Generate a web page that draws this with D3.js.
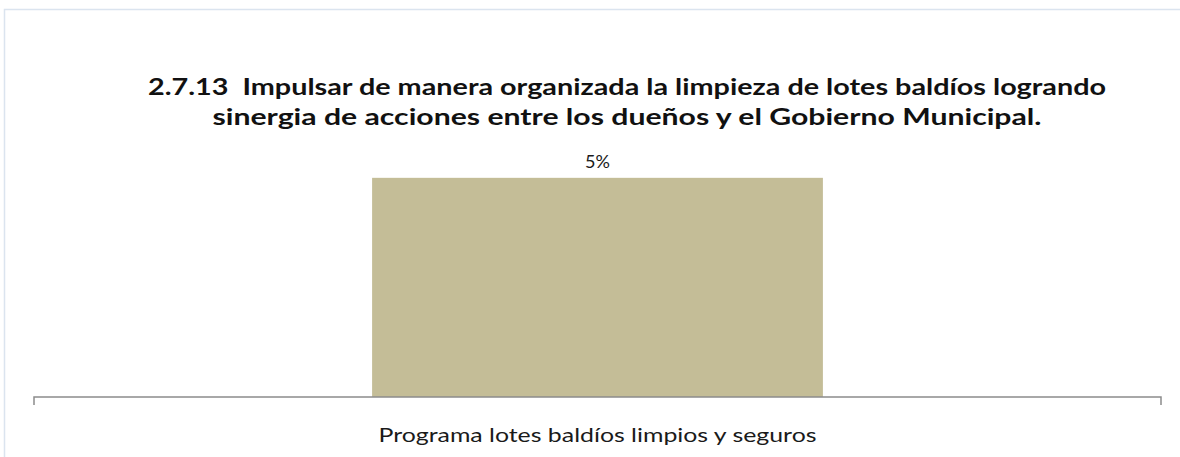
<!DOCTYPE html>
<html>
<head>
<meta charset="utf-8">
<script src="https://cdn.jsdelivr.net/npm/d3@7"></script>
<style>
  html, body { margin: 0; padding: 0; background: #fff; }
  svg { display: block; }
  text { white-space: pre; }
</style>
</head>
<body>
<svg id="chart" width="1180" height="457"></svg>
<script>
// Chart data
const categories = ["Programa lotes baldíos limpios y seguros"];
const values = [0.05];
const titleLines = [
  "2.7.13  Impulsar de manera organizada la limpieza de lotes baldíos logrando",
  "sinergia de acciones entre los dueños y el Gobierno Municipal."
];
const yDomain = [0, 0.06];

const svg = d3.select("#chart");
const W = 1180, H = 457;
const FONT = "Lato, 'Open Sans', sans-serif";

// Chart frame (only the left and top edges fall inside the view)
svg.append("path")
  .attr("d", `M4.5,${H} L4.5,9.5 L${W},9.5`)
  .attr("fill", "none")
  .attr("stroke", "#dbe4ef")
  .attr("stroke-width", 1.5);

const plot = { left: 34, right: 1161, top: 134, bottom: 397 };

const x = d3.scaleBand()
  .domain(categories)
  .range([plot.left, plot.right])
  .paddingInner(0)
  .paddingOuter(0);

const y = d3.scaleLinear()
  .domain(yDomain)
  .range([plot.bottom, plot.top]);

const barFrac = 0.4; // gap width 150%

// Bars
svg.append("g")
  .selectAll("rect")
  .data(categories)
  .join("rect")
  .attr("x", (d) => x(d) + x.bandwidth() * (1 - barFrac) / 2)
  .attr("width", x.bandwidth() * barFrac)
  .attr("y", (d, i) => y(values[i]))
  .attr("height", (d, i) => y(0) - y(values[i]))
  .attr("fill", "#c4bd97");

// Value labels
svg.append("g")
  .selectAll("text")
  .data(categories)
  .join("text")
  .attr("x", (d) => x(d) + x.bandwidth() / 2)
  .attr("y", (d, i) => y(values[i]) - 10)
  .attr("text-anchor", "middle")
  .attr("font-family", FONT)
  .attr("font-size", 18)
  .attr("fill", "#1a1a1a")
  .text((d, i) => d3.format(".0%")(values[i]));

// Category axis with boundary ticks
const axis = svg.append("g").attr("transform", `translate(0,${plot.bottom})`);
axis.append("path")
  .attr("d", `M${plot.left},8 L${plot.left},0 L${plot.right},0 L${plot.right},8`)
  .attr("fill", "none")
  .attr("stroke", "#8c8c8c")
  .attr("stroke-width", 1.5);

axis.selectAll("text.cat")
  .data(categories)
  .join("text")
  .attr("class", "cat")
  .attr("x", (d) => x(d) + x.bandwidth() / 2)
  .attr("y", 45)
  .attr("text-anchor", "middle")
  .attr("font-family", FONT)
  .attr("font-size", 20)
  .attr("fill", "#1a1a1a")
  .attr("textLength", 438)
  .attr("lengthAdjust", "spacingAndGlyphs")
  .text((d) => d);

// Title
const titleWidths = [958, 829];
svg.append("g")
  .selectAll("text")
  .data(titleLines)
  .join("text")
  .attr("x", 627)
  .attr("y", (d, i) => 95 + i * 30)
  .attr("text-anchor", "middle")
  .attr("font-family", FONT)
  .attr("font-weight", "bold")
  .attr("font-size", 23)
  .attr("fill", "#111")
  .attr("textLength", (d, i) => titleWidths[i])
  .attr("lengthAdjust", "spacingAndGlyphs")
  .text((d) => d);
</script>
</body>
</html>
